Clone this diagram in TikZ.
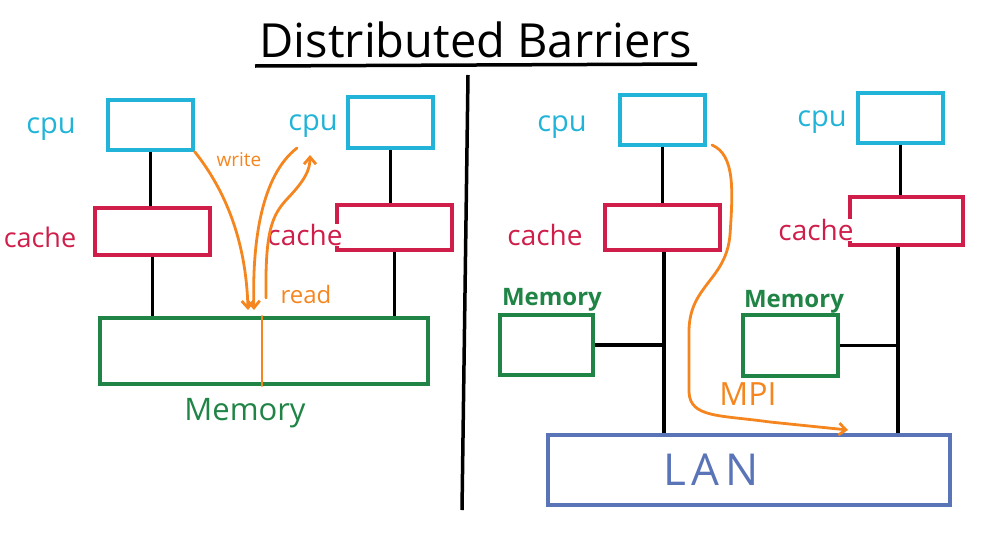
\documentclass[tikz,border=0pt]{standalone}
\usepackage{fontspec}
\setmainfont{Open Sans}
\usetikzlibrary{arrows.meta}
\definecolor{cpucol}{HTML}{22B4D8}
\definecolor{cachecol}{HTML}{D01E4A}
\definecolor{memcol}{HTML}{1F8445}
\definecolor{orng}{HTML}{F5861F}
\definecolor{lancol}{HTML}{5A74B8}
\tikzset{
  box/.style={draw, line width=3.5pt, inner sep=0pt},
  cpubox/.style={box, draw=cpucol},
  cachebox/.style={box, draw=cachecol},
  membox/.style={box, draw=memcol},
  lanbox/.style={box, draw=lancol},
  wire/.style={line width=3.5pt, black},
  msg/.style={line width=2.8pt, orng, line cap=round},
  msgarrow/.style={msg, -{Straight Barb[length=7pt,width=12pt]}},
  cpulabel/.style={text=cpucol, font=\fontsize{29}{32}\selectfont},
  cachelabel/.style={text=cachecol, font=\fontsize{28}{31}\selectfont},
  orlabel/.style={text=orng},
}
\begin{document}
\begin{tikzpicture}[x=1pt,y=-1pt]
\useasboundingbox (0,0) rectangle (988,536);
% title
\node[font=\fontsize{47}{50}\selectfont] (title) at (476,40) {Distributed Barriers};
\coordinate (ul1) at (255,66);
\coordinate (ul2) at (697,64);
\draw[wire] (ul1) -- (ul2);
% divider
\coordinate (dtop) at (468,75);
\coordinate (dbot) at (462,510);
\draw[wire] (dtop) -- (dbot);

% ---------- left: shared memory ----------
\node[cpubox, minimum width=85pt, minimum height=50pt] (c1) at (150.5,125) {};
\node[cpubox, minimum width=85pt, minimum height=51pt] (c2) at (390.5,122.5) {};
\node[cachebox, minimum width=115pt, minimum height=47pt] (k1) at (152.5,231.5) {};
\node[cachebox, minimum width=115pt, minimum height=45pt] (k2) at (394.5,227.5) {};
\node[membox, minimum width=328pt, minimum height=66pt] (m1) at (264,351) {};
\node[cpulabel] (lc1) at (51,129) {cpu};
\node[cpulabel] (lc2) at (313,126) {cpu};
\node[cachelabel, font=\fontsize{27}{30}\selectfont, inner sep=0pt] (lk1) at (40,237) {cache};
\node[cachelabel, fill=white, inner sep=0pt] (lk2) at (305,235) {cache};
\node[text=memcol, font=\fontsize{31}{34}\selectfont] (lm1) at (245,413) {Memory};

\draw[wire] (c1.south) -- (c1.south |- k1.north);
\draw[wire] (k1.south) -- (k1.south |- m1.north);
\draw[wire] (c2.south) -- (c2.south |- k2.north);
\draw[wire] (k2.south) -- (k2.south |- m1.north);

\coordinate (mdiv) at (262,351);
\draw[msg] (mdiv |- m1.north) -- (mdiv |- m1.south);

\coordinate (w2start) at (297,148);
\coordinate (w1end) at (248,310);
\coordinate (w2end) at (254,310);
\coordinate (rstart) at (266,298);
\coordinate (rend) at (310,155);
\draw[msgarrow] (c1.south east) .. controls (225,190) and (246,240) .. (w1end);
\draw[msgarrow] (w2start) .. controls (262,175) and (252,240) .. (w2end);
\draw[msgarrow] (rstart) .. controls (265,230) and (272,215) .. (288,198) .. controls (305,180) and (310,170) .. (rend);
\node[orlabel, font=\fontsize{19}{22}\selectfont] (lw) at (239,160) {write};
\node[orlabel, font=\fontsize{24}{27}\selectfont] (lr) at (306,294) {read};

% ---------- right: distributed memory ----------
\node[cpubox, minimum width=85pt, minimum height=50pt] (c3) at (662.5,120) {};
\node[cpubox, minimum width=85pt, minimum height=50pt] (c4) at (900.5,118) {};
\node[cachebox, minimum width=115pt, minimum height=45pt] (k3) at (662.5,227.5) {};
\node[cachebox, minimum width=113pt, minimum height=48pt] (k4) at (906.5,221) {};
\node[membox, minimum width=93pt, minimum height=60pt] (m3) at (546.5,345) {};
\node[membox, minimum width=95pt, minimum height=61pt] (m4) at (790.5,345.5) {};
\node[lanbox, minimum width=402pt, minimum height=70pt] (lan) at (749,470) {};
\node[text=lancol, font=\fontsize{44}{48}\selectfont] (llan) at (711,470) {L\hspace{6pt}A\hspace{6pt}N};
\node[cpulabel] (lc3) at (562,127) {cpu};
\node[cpulabel] (lc4) at (822,122) {cpu};
\node[cachelabel] (lk3) at (545,235) {cache};
\node[cachelabel, fill=white, inner sep=0pt] (lk4) at (816,230) {cache};
\node[text=memcol, font=\bfseries\fontsize{24}{26}\selectfont] (lm3) at (552,300) {Memory};
\node[text=memcol, font=\bfseries\fontsize{24}{26}\selectfont] (lm4) at (794,302) {Memory};

\coordinate (b3) at (664,0);
\coordinate (b4) at (898,0);
\draw[wire] (c3.south) -- (c3.south |- k3.north);
\draw[wire] (k3.south -| b3) -- (b3 |- lan.north);
\draw[wire] (m3.east) -- (m3.east -| b3);
\draw[wire] (c4.south) -- (c4.south |- k4.north);
\draw[wire] (k4.south -| b4) -- (b4 |- lan.north);
\draw[wire] (m4.east) -- (m4.east -| b4);

\coordinate (mpis) at (712,145);
\coordinate (mpie) at (848,430);
\draw[msgarrow] (mpis) .. controls (735,155) and (733,190) .. (730,235)
  .. controls (726,280) and (690,285) .. (689,330) -- (689,392)
  .. controls (690,418) and (720,415) .. (770,422) -- (mpie);
\node[orlabel, font=\fontsize{32}{34}\selectfont] (lmpi) at (748,394) {MPI};
\end{tikzpicture}
\end{document}
